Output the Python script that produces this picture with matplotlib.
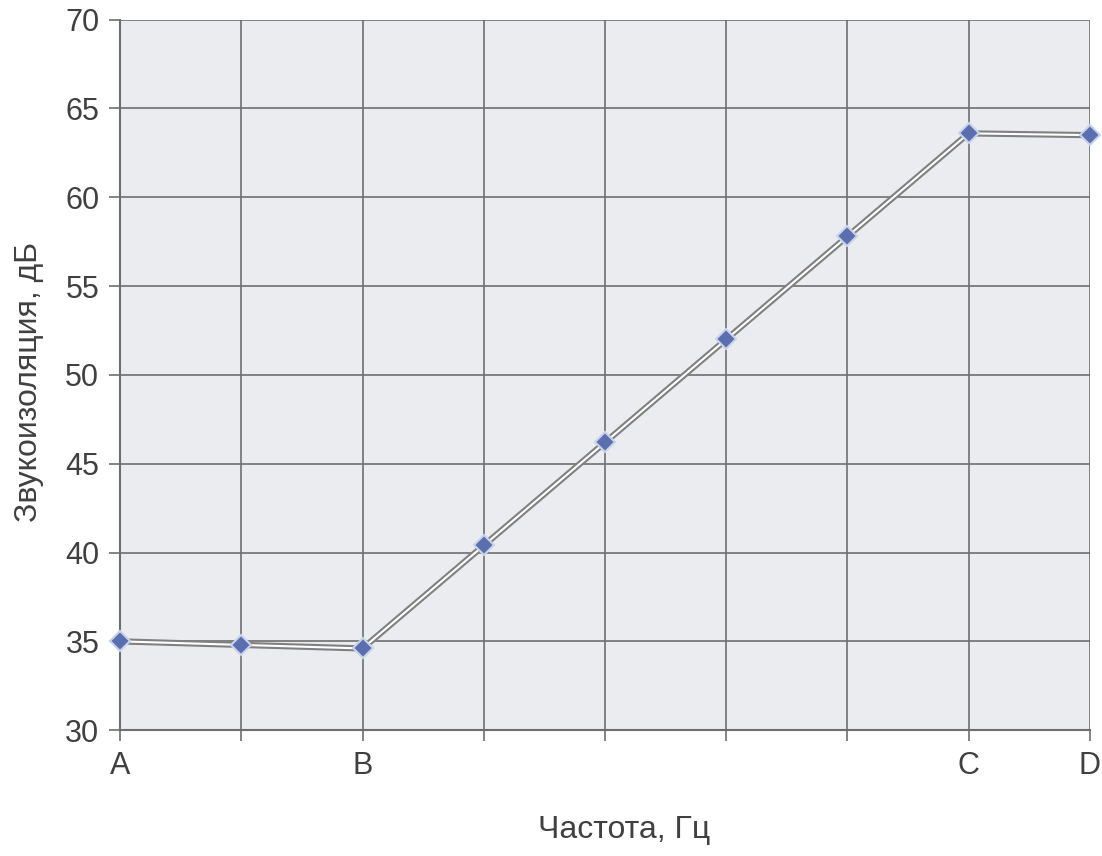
import numpy as np
import matplotlib.pyplot as plt

plt.rcParams['font.family'] = ['Liberation Sans', 'DejaVu Sans']

# точки графика
positions = [0, 1, 2, 3, 4, 5, 6, 7, 8]
isolation = [35.0, 34.8, 34.6, 40.4, 46.2, 52.0, 57.8, 63.6, 63.5]
tick_labels = ['A', '', 'B', '', '', '', '', 'C', 'D']

fig = plt.figure(figsize=(11.02, 8.56), dpi=100)
ax = fig.add_axes([0.109, 0.147, 0.88, 0.83])
ax.set_facecolor('#ebecf0')

# двойная линия: серая обводка и белая середина
ax.plot(positions, isolation, color='#808080', lw=4.5, zorder=3, clip_on=False)
ax.plot(positions, isolation, color='white', lw=1.5, zorder=4, clip_on=False)
ax.plot(positions, isolation, ls='none', marker='D', ms=10, mfc='#5b6fb0',
        mec='#c8d4ea', mew=1.5, zorder=5, clip_on=False)

ax.set_xlim(0, 8)
ax.set_ylim(30, 70)
ax.set_xticks(positions)
ax.set_xticklabels(tick_labels)
ax.set_yticks(np.arange(30, 71, 5))
ax.grid(True, color='#6e6e6e', lw=1.2)
ax.set_axisbelow(True)
for s in ax.spines.values():
    s.set_visible(False)
for side in ['left', 'bottom']:
    ax.spines[side].set_visible(True)
    ax.spines[side].set_color('#6e6e6e')
    ax.spines[side].set_linewidth(1.5)
ax.tick_params(colors='#6e6e6e', length=8, width=1.2, labelsize=22,
               labelcolor='#404040', pad=7)

ax.set_xlabel('Частота, Гц', fontsize=23, color='#404040')
ax.set_ylabel('Звукоизоляция, дБ', fontsize=23, color='#404040')
ax.xaxis.set_label_coords(0.52, -0.12)
ax.yaxis.set_label_coords(-0.078, 0.49)

fig.savefig('out.png', dpi=100, facecolor='white')
